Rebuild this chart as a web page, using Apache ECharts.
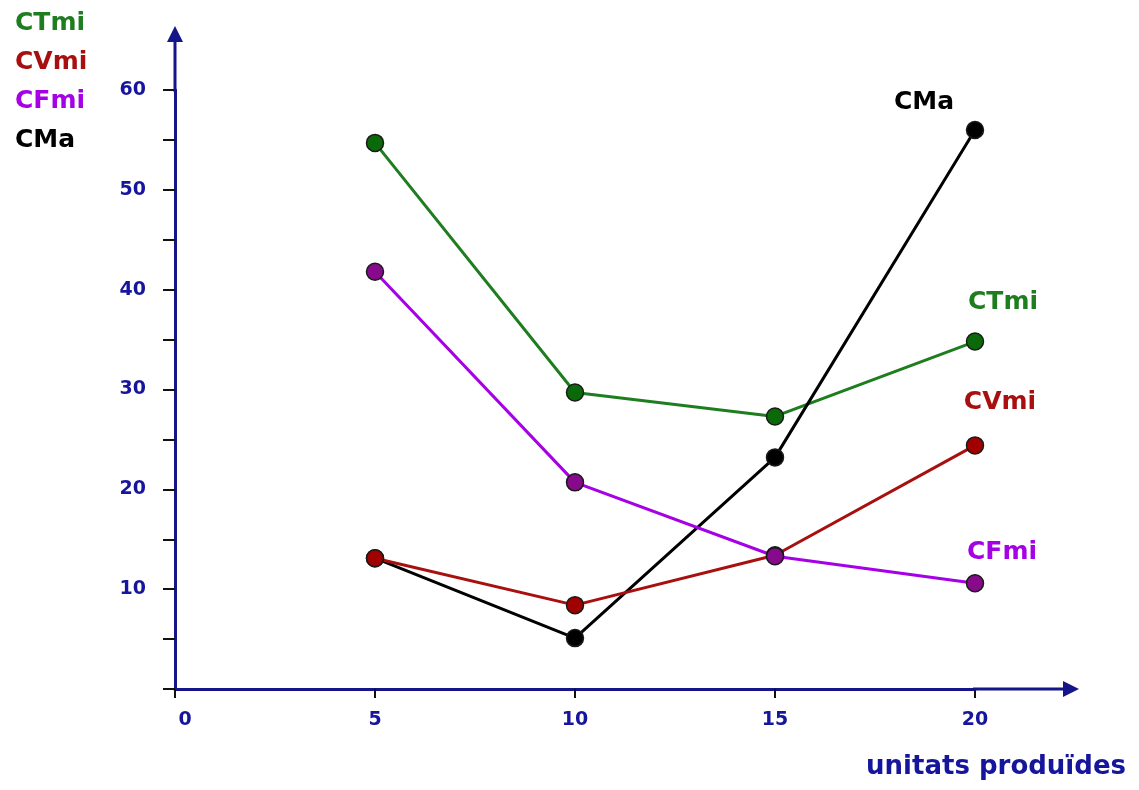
<!DOCTYPE html>
<html>
<head>
<meta charset="utf-8">
<script src="https://cdn.jsdelivr.net/npm/echarts@6/dist/echarts.min.js"></script>
<style>html,body{margin:0;padding:0;background:#fff;}#c{width:1139px;height:790px;}</style>
</head>
<body>
<div id="c"></div>
<script>
const units = [5, 10, 15, 20];
const ctmi = [54.7, 29.7, 27.3, 34.8];
const cvmi = [13.1, 8.4, 13.4, 24.4];
const cfmi = [41.8, 20.7, 13.3, 10.6];
const cma = [13.1, 5.1, 23.2, 56.0];
const xTicks = [0, 5, 10, 15, 20];
const yLabels = [10, 20, 30, 40, 50, 60];
const xTitle = 'unitats produïdes';

const FONT = '"DejaVu Sans", sans-serif';
const NAVY = '#16169c';
const AXIS = '#15158a';

const seriesDefs = [
  {name: 'CTmi', values: ctmi, line: '#1e7d1e', fill: '#0a6a0a', off: [28, -39]},
  {name: 'CMa', values: cma, line: '#000000', fill: '#000000', off: [-51, -27]},
  {name: 'CVmi', values: cvmi, line: '#a81010', fill: '#a00000', off: [25, -43]},
  {name: 'CFmi', values: cfmi, line: '#a600e6', fill: '#880a8c', off: [27, -31]}
];
const legendOrder = ['CTmi', 'CVmi', 'CFmi', 'CMa'];

function mkSeries(d) {
  return {
    name: d.name,
    type: 'line',
    clip: false,
    symbol: 'circle',
    symbolSize: 17,
    lineStyle: {color: d.line, width: 3},
    itemStyle: {color: d.fill, borderColor: '#1a1a1a', borderWidth: 1.5},
    emphasis: {disabled: true},
    data: d.values.map((v, i) => {
      const item = {value: [units[i], v]};
      if (i === d.values.length - 1) {
        item.label = {
          show: true, position: 'inside', offset: d.off,
          formatter: d.name, color: d.line === '#000000' ? '#000' : d.line,
          fontFamily: FONT, fontWeight: 'bold', fontSize: 25
        };
      }
      return item;
    })
  };
}

const chart = echarts.init(document.getElementById('c'));
chart.setOption({
  animation: false,
  backgroundColor: '#fff',
  title: {
    text: xTitle, right: 8, bottom: 5,
    textStyle: {color: NAVY, fontFamily: FONT, fontWeight: 'bold', fontSize: 26}
  },
  legend: {
    orient: 'vertical', left: 5, top: 5, itemGap: 13, itemWidth: 0, itemHeight: 27,
    selectedMode: false,
    data: legendOrder.map(n => {
      const d = seriesDefs.find(s => s.name === n);
      return {name: n, icon: 'none', textStyle: {color: d.line, fontFamily: FONT, fontWeight: 'bold', fontSize: 25}};
    })
  },
  grid: {left: 175, right: 164, top: 90, bottom: 101, containLabel: false, outerBoundsMode: 'none'},
  xAxis: {
    type: 'value', min: 0, max: 20, interval: 5,
    splitLine: {show: false},
    axisLine: {
      show: true, onZero: false,
      lineStyle: {color: AXIS, width: 3},
      symbol: ['none', 'path://M8,0 L16,16 L9.5,16 L9.5,106 L6.5,106 L6.5,16 L0,16 Z'],
      symbolSize: [16, 106], symbolOffset: [0, 51]
    },
    axisTick: {show: true, length: 9, lineStyle: {color: '#111', width: 2}},
    axisLabel: {
      margin: 22, color: NAVY, fontFamily: FONT, fontWeight: 'bold', fontSize: 19,
      formatter: v => xTicks.indexOf(v) === 0 ? '{z|' + v + '}' : (xTicks.indexOf(v) >= 0 ? String(v) : ''),
      rich: {z: {padding: [0, 0, 0, 20], color: NAVY, fontFamily: FONT, fontWeight: 'bold', fontSize: 19}}
    }
  },
  yAxis: {
    type: 'value', min: 0, max: 60, interval: 5,
    splitLine: {show: false},
    axisLine: {
      show: true, onZero: false,
      lineStyle: {color: AXIS, width: 3},
      symbol: ['none', 'path://M8,0 L16,16 L9.5,16 L9.5,66 L6.5,66 L6.5,16 L0,16 Z'],
      symbolSize: [16, 66], symbolOffset: [0, 31]
    },
    axisTick: {show: true, length: 12, lineStyle: {color: '#111', width: 2}},
    axisLabel: {
      margin: 29, color: NAVY, fontFamily: FONT, fontWeight: 'bold', fontSize: 19,
      formatter: v => yLabels.indexOf(v) >= 0 ? String(v) : ''
    }
  },
  series: seriesDefs.map(mkSeries)
});
</script>
</body>
</html>
